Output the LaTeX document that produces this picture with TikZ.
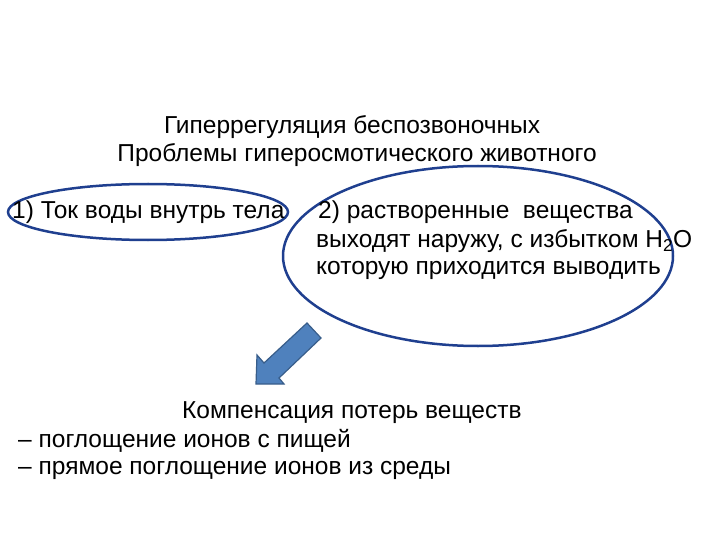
\documentclass[tikz,border=0pt]{standalone}
\usepackage{fontspec}
\setmainfont{Liberation Sans}
\begin{document}
\begin{tikzpicture}[x=1pt,y=-1pt,
  txt/.style={anchor=west,inner sep=0,font=\fontsize{24.5}{28}\selectfont},
  ctxt/.style={inner sep=0,font=\fontsize{24.5}{28}\selectfont}]
\definecolor{elc}{HTML}{1F3F8F}
\definecolor{arf}{HTML}{4F81BD}
\definecolor{ard}{HTML}{385D8A}
\useasboundingbox (0,0) rectangle (720,540);
\node[ctxt] (t1) at (352,127) {Гиперрегуляция беспозвоночных};
\node[ctxt] (t2) at (357,155) {Проблемы гиперосмотического животного};
\draw[draw=elc,line width=2.5pt] (148,212) ellipse [x radius=140,y radius=28];
\draw[draw=elc,line width=2.5pt] (478,256) ellipse [x radius=195,y radius=90];
\node[txt] (a) at (12,212) {1) Ток воды внутрь тела};
\node[txt] (b1) at (318,212) {2) растворенные\ \ вещества};
\node[txt] (b2) at (316,241) {выходят наружу, с избытком H\textsubscript{2}O};
\node[txt] (b3) at (316,270) {которую приходится выводить};
\draw[fill=arf,draw=ard,line width=1.2pt,line join=miter]
  (256,384) -- (257,355) -- (264,363) -- (307,323) -- (321,338) -- (279,378) -- (284,384) -- cycle;
\node[txt] (c1) at (182,413) {Компенсация потерь веществ};
\node[txt] (c2) at (18,441) {– поглощение ионов с пищей};
\node[txt] (c3) at (18,470) {– прямое поглощение ионов из среды};
\end{tikzpicture}
\end{document}
